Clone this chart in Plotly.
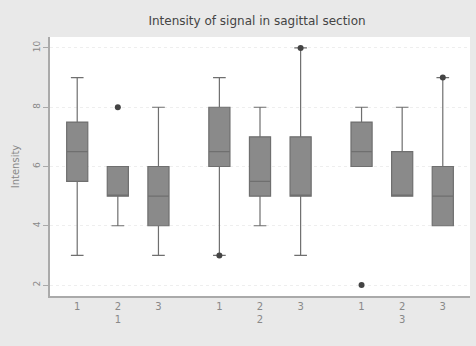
import plotly.graph_objects as go

# Data (scores 2-10)
groups = ["1", "1", "1", "2", "2", "2", "3", "3", "3"]
subgroups = ["1", "2", "3", "1", "2", "3", "1", "2", "3"]
positions = [1, 2, 3, 4.5, 5.5, 6.5, 8, 9, 10]
q1 = [5.5, 5, 4, 6, 5, 5, 6, 5, 4]
median = [6.5, 5, 5, 6.5, 5.5, 5, 6.5, 5, 5]
q3 = [7.5, 6, 6, 8, 7, 7, 7.5, 6.5, 6]
lower = [3, 4, 3, 3, 4, 3, 6, 5, 4]
upper = [9, 6, 8, 9, 8, 10, 8, 8, 9]
outlier_x = [2, 4.5, 6.5, 8, 10]
outlier_y = [8, 3, 10, 2, 9]
y_ticks = [2, 4, 6, 8, 10]

fig = go.Figure()
fig.add_trace(go.Box(
    x=positions, q1=q1, median=median, q3=q3,
    lowerfence=lower, upperfence=upper,
    width=0.52, whiskerwidth=0.6,
    fillcolor="#8a8a8a", line=dict(color="#6f6f6f", width=1.2),
    boxpoints=False, showlegend=False,
))
fig.add_trace(go.Scatter(
    x=outlier_x, y=outlier_y, mode="markers",
    marker=dict(color="#444444", size=6), showlegend=False,
))

ticktext = []
for g, s in zip(groups, subgroups):
    if s == "2":
        ticktext.append(s + "<br>" + g)
    else:
        ticktext.append(s)

fig.update_layout(
    width=476, height=346,
    margin=dict(l=50, r=6, t=37, b=50),
    paper_bgcolor="#e9e9e9", plot_bgcolor="#ffffff",
    title=dict(text="Intensity of signal in sagittal section", x=0.54, xanchor="center",
               y=0.94, yanchor="middle",
               font=dict(family="DejaVu Sans", size=12, color="#444444")),
    font=dict(family="DejaVu Sans", size=10, color="#777777"),
)
fig.update_xaxes(
    range=[0.33, 10.67], tickvals=positions, ticktext=ticktext,
    showline=True, linecolor="#aaaaaa", linewidth=1.5,
    showgrid=False, zeroline=False, ticks="", tickfont=dict(size=10, color="#888888"),
)
fig.update_yaxes(
    range=[1.63, 10.37], tickvals=y_ticks, tickangle=-90,
    showline=True, linecolor="#aaaaaa", linewidth=1.5,
    ticks="outside", ticklen=5, tickcolor="#aaaaaa",
    showgrid=True, gridcolor="#eeeeee", griddash="dot", zeroline=False,
    title=dict(text="Intensity", font=dict(size=10, color="#888888"), standoff=10),
    tickfont=dict(size=9, color="#888888"),
)

fig.write_html("out.html")
